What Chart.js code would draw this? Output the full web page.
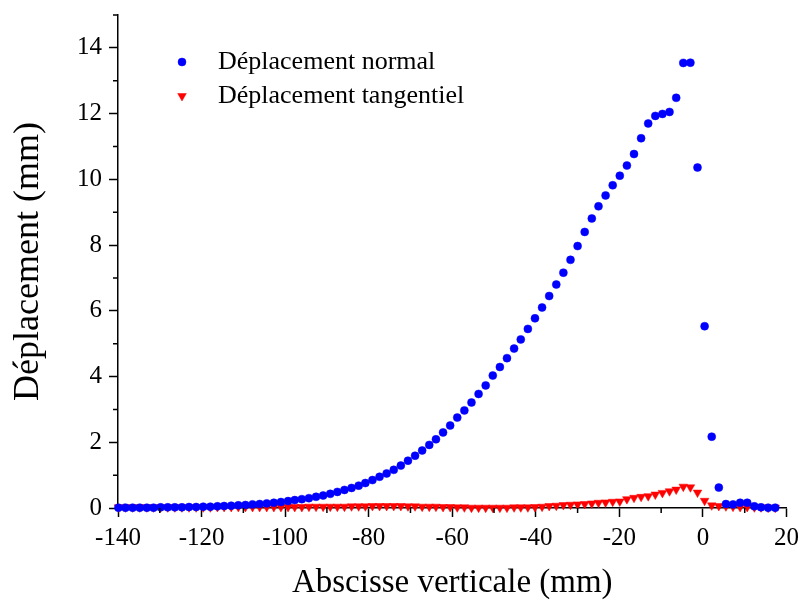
<!DOCTYPE html>
<html>
<head>
<meta charset="utf-8">
<script src="https://cdn.jsdelivr.net/npm/chart.js@4.4.0/dist/chart.umd.min.js"></script>
<style>
  html, body { margin: 0; padding: 0; background: #fff; }
  #wrap { width: 805px; height: 603px; }
</style>
</head>
<body>
<div id="wrap"><canvas id="myChart" width="805" height="603"></canvas></div>
<script>
// abscisses des points (mm)
const abscisse = [
  -139.9, -138.2, -136.5, -134.8, -133.1, -131.5, -129.8, -128.1, -126.4, -124.7,
  -123.0, -121.3, -119.6, -117.9, -116.2, -114.6, -112.9, -111.2, -109.5, -107.8,
  -106.1, -104.4, -102.7, -101.0, -99.3, -97.7, -96.0, -94.3, -92.6, -90.9,
  -89.2, -87.5, -85.8, -84.1, -82.4, -80.8, -79.1, -77.4, -75.7, -74.0,
  -72.3, -70.6, -68.9, -67.2, -65.5, -63.9, -62.2, -60.5, -58.8, -57.1,
  -55.4, -53.7, -52.0, -50.3, -48.6, -46.9, -45.2, -43.6, -41.9, -40.2,
  -38.5, -36.8, -35.1, -33.4, -31.7, -30.0, -28.3, -26.6, -25.0, -23.3,
  -21.6, -19.9, -18.2, -16.5, -14.8, -13.1, -11.4, -9.7, -8.0, -6.4,
  -4.7, -3.0, -1.3, 0.4, 2.1, 3.8, 5.5, 7.2, 8.9, 10.6,
  12.3, 13.9, 15.6, 17.3
];

// Déplacement normal (mm)
const deplNormal = [
  0.01, 0.01, 0.01, 0.01, 0.01, 0.01, 0.02, 0.02, 0.02, 0.02,
  0.03, 0.03, 0.04, 0.04, 0.05, 0.06, 0.07, 0.08, 0.09, 0.11,
  0.12, 0.14, 0.16, 0.18, 0.21, 0.24, 0.27, 0.30, 0.34, 0.38,
  0.43, 0.49, 0.55, 0.61, 0.68, 0.76, 0.85, 0.95, 1.05, 1.16,
  1.29, 1.44, 1.59, 1.75, 1.92, 2.09, 2.30, 2.51, 2.75, 2.97,
  3.21, 3.47, 3.73, 4.03, 4.29, 4.56, 4.85, 5.13, 5.45, 5.77,
  6.10, 6.45, 6.80, 7.16, 7.55, 7.97, 8.40, 8.81, 9.18, 9.51,
  9.82, 10.11, 10.42, 10.77, 11.25, 11.70, 11.93, 11.99, 12.05, 12.48,
  13.54, 13.55, 10.36, 5.53, 2.17, 0.62, 0.12, 0.11, 0.16, 0.16,
  0.05, 0.02, 0.01, 0.01
];

// Déplacement tangentiel (mm)
const deplTangentiel = [
  0.02, 0.02, 0.02, 0.02, 0.02, 0.02, 0.02, 0.02, 0.02, 0.02,
  0.02, 0.02, 0.02, 0.02, 0.03, 0.03, 0.03, 0.03, 0.03, 0.03,
  0.03, 0.03, 0.03, 0.03, 0.03, 0.03, 0.03, 0.04, 0.04, 0.04,
  0.04, 0.04, 0.04, 0.05, 0.05, 0.05, 0.06, 0.06, 0.06, 0.06,
  0.06, 0.05, 0.05, 0.04, 0.04, 0.04, 0.03, 0.03, 0.02, 0.02,
  0.01, 0.01, 0.01, 0.01, 0.01, 0.01, 0.02, 0.02, 0.02, 0.03,
  0.04, 0.06, 0.07, 0.09, 0.10, 0.11, 0.12, 0.14, 0.16, 0.17,
  0.19, 0.20, 0.27, 0.31, 0.34, 0.36, 0.41, 0.46, 0.51, 0.56,
  0.65, 0.63, 0.47, 0.22, 0.08, 0.06, 0.05, 0.04, 0.03, 0.03,
  0.02, 0.02, 0.01, 0.01
];

const xTicks = [-140, -120, -100, -80, -60, -40, -20, 0, 20];
const xMinorTicks = [-130, -110, -90, -70, -50, -30, -10, 10];
const yTicks = [0, 2, 4, 6, 8, 10, 12, 14];
const yMinorTicks = [1, 3, 5, 7, 9, 11, 13, 15];

const serif = "'Liberation Serif', 'Times New Roman', serif";

// petites graduations + légende dans le cadre
const extras = {
  id: 'extras',
  afterDraw(chart) {
    const ctx = chart.ctx;
    const xs = chart.scales.x, ys = chart.scales.y;
    const area = chart.chartArea;
    ctx.save();
    ctx.strokeStyle = '#000';
    ctx.lineWidth = 1.5;
    ctx.beginPath();
    yMinorTicks.forEach(v => {
      const py = ys.getPixelForValue(v);
      ctx.moveTo(area.left, py);
      ctx.lineTo(area.left - 5, py);
    });
    xMinorTicks.forEach(v => {
      const px = xs.getPixelForValue(v);
      ctx.moveTo(px, area.bottom);
      ctx.lineTo(px, area.bottom + 5);
    });
    ctx.stroke();

    // légende
    const items = [
      { text: 'Déplacement normal', color: '#0000ff', style: 'circle', radius: 4, rotation: 0, y: 62 },
      { text: 'Déplacement tangentiel', color: '#ff0000', style: 'triangle', radius: 5, rotation: 180, y: 96 }
    ];
    ctx.font = '26px ' + serif;
    ctx.textBaseline = 'middle';
    ctx.textAlign = 'left';
    items.forEach(it => {
      ctx.fillStyle = it.color;
      ctx.strokeStyle = it.color;
      ctx.lineWidth = 0.5;
      Chart.helpers.drawPoint(ctx, { pointStyle: it.style, radius: it.radius, rotation: it.rotation, borderWidth: 0.5 }, 182, it.y);
      ctx.fillStyle = '#000';
      ctx.fillText(it.text, 218, it.y);
    });
    ctx.restore();
  }
};

const ctx = document.getElementById('myChart').getContext('2d');
const chart = new Chart(ctx, {
  type: 'scatter',
  data: {
    datasets: [
      {
        label: 'Déplacement normal',
        data: abscisse.map((x, i) => ({ x, y: deplNormal[i] })),
        pointStyle: 'circle',
        pointRadius: 4,
        backgroundColor: '#0000ff',
        borderColor: '#0000ff',
        borderWidth: 0.5,
        clip: false
      },
      {
        label: 'Déplacement tangentiel',
        data: abscisse.map((x, i) => ({ x, y: deplTangentiel[i] })),
        pointStyle: 'triangle',
        rotation: 180,
        pointRadius: 5,
        backgroundColor: '#ff0000',
        borderColor: '#ff0000',
        borderWidth: 0.5,
        clip: false
      }
    ]
  },
  options: {
    responsive: false,
    animation: false,
    devicePixelRatio: 1,
    layout: { padding: { top: 15, right: 16, left: 0, bottom: 0 } },
    plugins: {
      legend: { display: false },
      tooltip: { enabled: false }
    },
    scales: {
      x: {
        type: 'linear',
        min: -140,
        max: 20,
        afterFit: s => { s.height = 95; },
        afterBuildTicks: s => { s.ticks = xTicks.map(v => ({ value: v })); },
        grid: { drawOnChartArea: false, drawTicks: true, tickLength: 9, tickWidth: 1.5, tickColor: '#000' },
        border: { display: true, color: '#000', width: 1.5 },
        ticks: {
          color: '#000',
          font: { family: serif, size: 25 },
          padding: 6,
          maxRotation: 0,
          callback: v => String(v)
        },
        title: {
          display: true,
          text: 'Abscisse verticale (mm)',
          color: '#000',
          font: { family: serif, size: 33 },
          padding: { top: 0, bottom: 0 }
        }
      },
      y: {
        type: 'linear',
        min: 0,
        max: 15,
        afterFit: s => { s.width = 118; s.paddingTop = 0; s.paddingBottom = 0; },
        afterBuildTicks: s => { s.ticks = yTicks.map(v => ({ value: v })); },
        grid: { drawOnChartArea: false, drawTicks: true, tickLength: 9, tickWidth: 1.5, tickColor: '#000' },
        border: { display: true, color: '#000', width: 1.5 },
        ticks: {
          color: '#000',
          font: { family: serif, size: 25 },
          padding: 7,
          callback: v => String(v)
        },
        title: {
          display: true,
          text: 'Déplacement (mm)',
          color: '#000',
          font: { family: serif, size: 36 },
          padding: { top: 7, bottom: 0 }
        }
      }
    }
  },
  plugins: [extras]
});
</script>
</body>
</html>
